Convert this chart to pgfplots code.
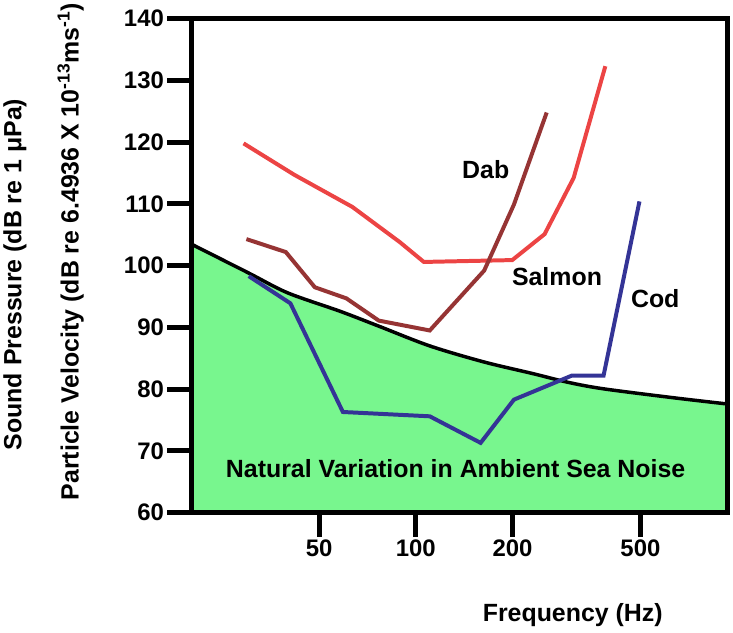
\documentclass[border=0pt]{standalone}
\usepackage{fontspec}
\setmainfont{Liberation Sans}
\usepackage{pgfplots}
\pgfplotsset{compat=1.18}
\definecolor{seagreen}{RGB}{120,246,142}
\definecolor{salmonred}{RGB}{236,68,68}
\definecolor{dabbrown}{RGB}{150,52,52}
\definecolor{codblue}{RGB}{52,52,150}
\newcommand{\bigbf}{\fontsize{25bp}{30bp}\selectfont\bfseries}
\begin{document}
\begin{tikzpicture}
\begin{axis}[
  at={(189bp,120bp)}, anchor=south west,
  scale only axis, width=538bp, height=496bp,
  xmode=log, xmin=20, xmax=930, ymin=60, ymax=140,
  xtick={50,100,200,500}, xticklabels={50,100,200,500},
  ytick={60,70,80,90,100,110,120,130,140},
  minor tick num=0,
  tick pos=left,
  tick align=outside,
  major tick length=24bp,
  tick style={draw=black, line width=5bp},
  major tick style={draw=black, line width=5bp},
  every tick/.append style={draw=black, line width=5bp},
  axis line style={line width=5bp},
  axis on top=true,
  /pgf/number format/assume math mode=true,
  tick label style={font=\fontsize{24bp}{28bp}\selectfont\bfseries},
  label style={font=\bigbf},
  xlabel={Frequency (Hz)},
  xlabel style={at={(rel axis cs:0.712,-0.208)}, anchor=center},
  ylabel={Particle Velocity (dB re 6.4936 X 10\textsuperscript{-13}ms\textsuperscript{-1})},
  ylabel style={at={(rel axis cs:-0.225,0.528)}, anchor=center},
]
\addplot[fill=seagreen, draw=none, smooth] coordinates {
 (20,103.5) (30.2,98.8) (39.9,95.6) (58.2,92.6) (76.7,90.2) (110.5,87.0)
 (163,84.4) (232,82.5) (298,81.1) (384,80.05) (635,78.6) (930,77.6)
} \closedcycle;
\addplot[black, line width=3.5bp, smooth] coordinates {
 (20,103.5) (30.2,98.8) (39.9,95.6) (58.2,92.6) (76.7,90.2) (110.5,87.0)
 (163,84.4) (232,82.5) (298,81.1) (384,80.05) (635,78.6) (930,77.6)
};
\addplot[salmonred, line width=4bp] coordinates {
 (29.1,119.8) (41.9,114.7) (63.5,109.5) (89.2,103.8) (105.9,100.6)
 (199.6,100.9) (251.6,105.1) (309.8,114.2) (388.9,132.3)
};
\addplot[dabbrown, line width=4bp] coordinates {
 (29.7,104.3) (39.4,102.2) (48.5,96.5) (60.8,94.7) (76.7,91.1)
 (110.5,89.5) (163.2,99.2) (202,109.9) (255.4,124.8)
};
\addplot[codblue, line width=4bp] coordinates {
 (30.2,98.3) (40.7,93.9) (59.3,76.3) (110.5,75.6) (159.1,71.3)
 (202,78.3) (306,82.2) (384,82.2) (496.5,110.4)
};
\node[font=\bigbf] at (axis cs:165,115.5) {Dab};
\node[font=\bigbf] at (axis cs:275,98.2) {Salmon};
\node[font=\bigbf] at (axis cs:556,94.7) {Cod};
\node[font=\bigbf] at (axis cs:133,67.2) {Natural Variation in Ambient Sea Noise};
\coordinate (splab) at (rel axis cs:-0.329,0.482);
\end{axis}
\node[font=\bigbf, rotate=90] at (splab) {Sound Pressure (dB re 1 μPa)};
\path (0,0) rectangle (733bp,632bp);
\end{tikzpicture}
\end{document}
